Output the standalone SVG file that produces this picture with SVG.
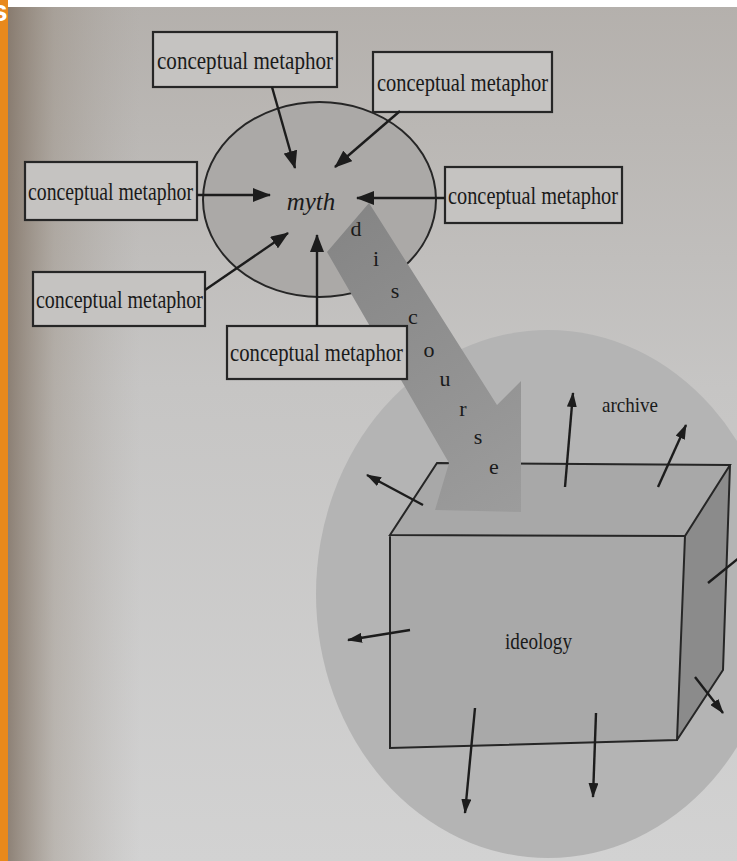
<svg xmlns="http://www.w3.org/2000/svg" width="737" height="861" viewBox="0 0 737 861">
  <style>
    .box { fill: #c5c3c1; stroke: #262626; stroke-width: 2.2; }
    .lbl { font-family: "Liberation Serif", "Times New Roman", serif; font-size: 25px; fill: #1a1a1a; }
    .dl { font-family: "Liberation Serif", "Times New Roman", serif; font-size: 22px; fill: #1a1a1a; text-anchor: middle; }
    .conn { stroke: #1c1c1c; stroke-width: 2.4; fill: none; }
    .edge { stroke: #262626; stroke-width: 2; fill: none; }
  </style>
  <defs>
    <linearGradient id="pageV" x1="0" y1="0" x2="0" y2="1">
      <stop offset="0" stop-color="#b4b0ac"/>
      <stop offset="0.45" stop-color="#c6c5c4"/>
      <stop offset="1" stop-color="#d2d2d2"/>
    </linearGradient>
    <linearGradient id="pageH" x1="8" y1="0" x2="140" y2="0" gradientUnits="userSpaceOnUse">
      <stop offset="0" stop-color="#7d6e60" stop-opacity="0.8"/>
      <stop offset="0.35" stop-color="#8f8273" stop-opacity="0.35"/>
      <stop offset="1" stop-color="#a09890" stop-opacity="0"/>
    </linearGradient>
    <linearGradient id="disc" x1="330" y1="220" x2="520" y2="510" gradientUnits="userSpaceOnUse">
      <stop offset="0" stop-color="#858585"/>
      <stop offset="1" stop-color="#9c9c9c"/>
    </linearGradient>
    <marker id="ah" markerUnits="userSpaceOnUse" markerWidth="18" markerHeight="14" refX="17" refY="7" orient="auto">
      <path d="M0,0 L18,7 L0,14 z" fill="#1c1c1c"/>
    </marker>
    <marker id="ahs" markerUnits="userSpaceOnUse" markerWidth="15" markerHeight="10" refX="14" refY="5" orient="auto">
      <path d="M0,0 L15,5 L0,10 z" fill="#1c1c1c"/>
    </marker>
  </defs>

  <!-- frame -->
  <rect x="0" y="0" width="8" height="861" fill="#e8891c"/>
  <text x="-9" y="21" font-family="Liberation Sans, Arial, sans-serif" font-weight="bold" font-size="30" fill="#ffffff">s</text>
  <rect x="8" y="0" width="729" height="861" fill="url(#pageV)"/>
  <rect x="8" y="0" width="140" height="861" fill="url(#pageH)"/>
  <rect x="8" y="0" width="729" height="7" fill="#ffffff"/>

  <!-- archive circle -->
  <g id="archive">
    <ellipse cx="548" cy="594" rx="232" ry="264" fill="#b4b4b4"/>
    <text x="602" y="412" font-family="Liberation Serif, Times New Roman, serif" font-size="22" textLength="56" lengthAdjust="spacingAndGlyphs" fill="#1a1a1a">archive</text>
  </g>

  <!-- ideology box -->
  <g id="ideology">
    <polygon points="437,463 730,465 685,536 390,535" fill="#a8a8a8"/>
    <polygon points="685,536 730,465 723,670 677,740" fill="#8b8b8b"/>
    <polygon points="390,535 685,536 677,740 390,748" fill="#a9a9a9"/>
    <path class="edge" d="M390,535 L437,463 L730,465 L685,536 Z M730,465 L723,670 L677,740 M685,536 L677,740 L390,748 L390,535"/>
    <text x="505" y="649" font-family="Liberation Serif, Times New Roman, serif" font-size="23" textLength="67" lengthAdjust="spacingAndGlyphs" fill="#1a1a1a">ideology</text>
  </g>

  <!-- myth ellipse -->
  <g id="myth">
    <ellipse cx="319.5" cy="199.5" rx="116.5" ry="97.5" fill="#aba9a7" stroke="#262626" stroke-width="2"/>
    <text x="311" y="210" font-family="Liberation Serif, Times New Roman, serif" font-size="25" font-style="italic" text-anchor="middle" fill="#1a1a1a">myth</text>
  </g>

  <!-- discourse arrow -->
  <g id="discourse">
    <polygon points="327,252 369,203 497,405 521,381 521,512 435,510 449,463" fill="url(#disc)"/>
    <text class="dl" x="356" y="236">d</text>
    <text class="dl" x="376" y="266">i</text>
    <text class="dl" x="395" y="298">s</text>
    <text class="dl" x="413" y="324">c</text>
    <text class="dl" x="429" y="357">o</text>
    <text class="dl" x="445" y="386">u</text>
    <text class="dl" x="463" y="416">r</text>
    <text class="dl" x="478" y="444">s</text>
    <text class="dl" x="494" y="474">e</text>
  </g>

  <!-- conceptual metaphor boxes -->
  <g id="cm-top">
    <rect class="box" x="153" y="32" width="184" height="55"/>
    <text class="lbl" x="157" y="69" textLength="176" lengthAdjust="spacingAndGlyphs">conceptual metaphor</text>
  </g>
  <g id="cm-topright">
    <rect class="box" x="373" y="52" width="179" height="60"/>
    <text class="lbl" x="377" y="91" textLength="171" lengthAdjust="spacingAndGlyphs">conceptual metaphor</text>
  </g>
  <g id="cm-left">
    <rect class="box" x="25" y="162" width="172" height="58"/>
    <text class="lbl" x="28" y="200" textLength="165" lengthAdjust="spacingAndGlyphs">conceptual metaphor</text>
  </g>
  <g id="cm-right">
    <rect class="box" x="445" y="167" width="177" height="56"/>
    <text class="lbl" x="448" y="204" textLength="170" lengthAdjust="spacingAndGlyphs">conceptual metaphor</text>
  </g>
  <g id="cm-lowerleft">
    <rect class="box" x="33" y="272" width="172" height="54"/>
    <text class="lbl" x="36" y="308" textLength="167" lengthAdjust="spacingAndGlyphs">conceptual metaphor</text>
  </g>
  <g id="cm-bottom">
    <rect class="box" x="227" y="326" width="180" height="53"/>
    <text class="lbl" x="230" y="361" textLength="173" lengthAdjust="spacingAndGlyphs">conceptual metaphor</text>
  </g>

  <!-- connectors -->
  <g id="connectors">
    <line class="conn" x1="272" y1="87" x2="295" y2="168" marker-end="url(#ah)"/>
    <line class="conn" x1="400" y1="111" x2="335" y2="167" marker-end="url(#ah)"/>
    <line class="conn" x1="197" y1="195" x2="270" y2="195" marker-end="url(#ah)"/>
    <line class="conn" x1="445" y1="198" x2="357" y2="198" marker-end="url(#ah)"/>
    <line class="conn" x1="205" y1="290" x2="288" y2="233" marker-end="url(#ah)"/>
    <line class="conn" x1="317" y1="326" x2="317" y2="235" marker-end="url(#ah)"/>

    <line class="conn" x1="565" y1="487" x2="573" y2="393" marker-end="url(#ahs)"/>
    <line class="conn" x1="658" y1="487" x2="686" y2="425" marker-end="url(#ahs)"/>
    <line class="conn" x1="423" y1="505" x2="367" y2="475" marker-end="url(#ahs)"/>
    <line class="conn" x1="410" y1="630" x2="348" y2="640" marker-end="url(#ahs)"/>
    <line class="conn" x1="475" y1="708" x2="465" y2="813" marker-end="url(#ahs)"/>
    <line class="conn" x1="596" y1="713" x2="593" y2="797" marker-end="url(#ahs)"/>
    <line class="conn" x1="695" y1="677" x2="723" y2="713" marker-end="url(#ahs)"/>
    <line class="conn" x1="708" y1="583" x2="760" y2="541" marker-end="url(#ahs)"/>
  </g>
</svg>
